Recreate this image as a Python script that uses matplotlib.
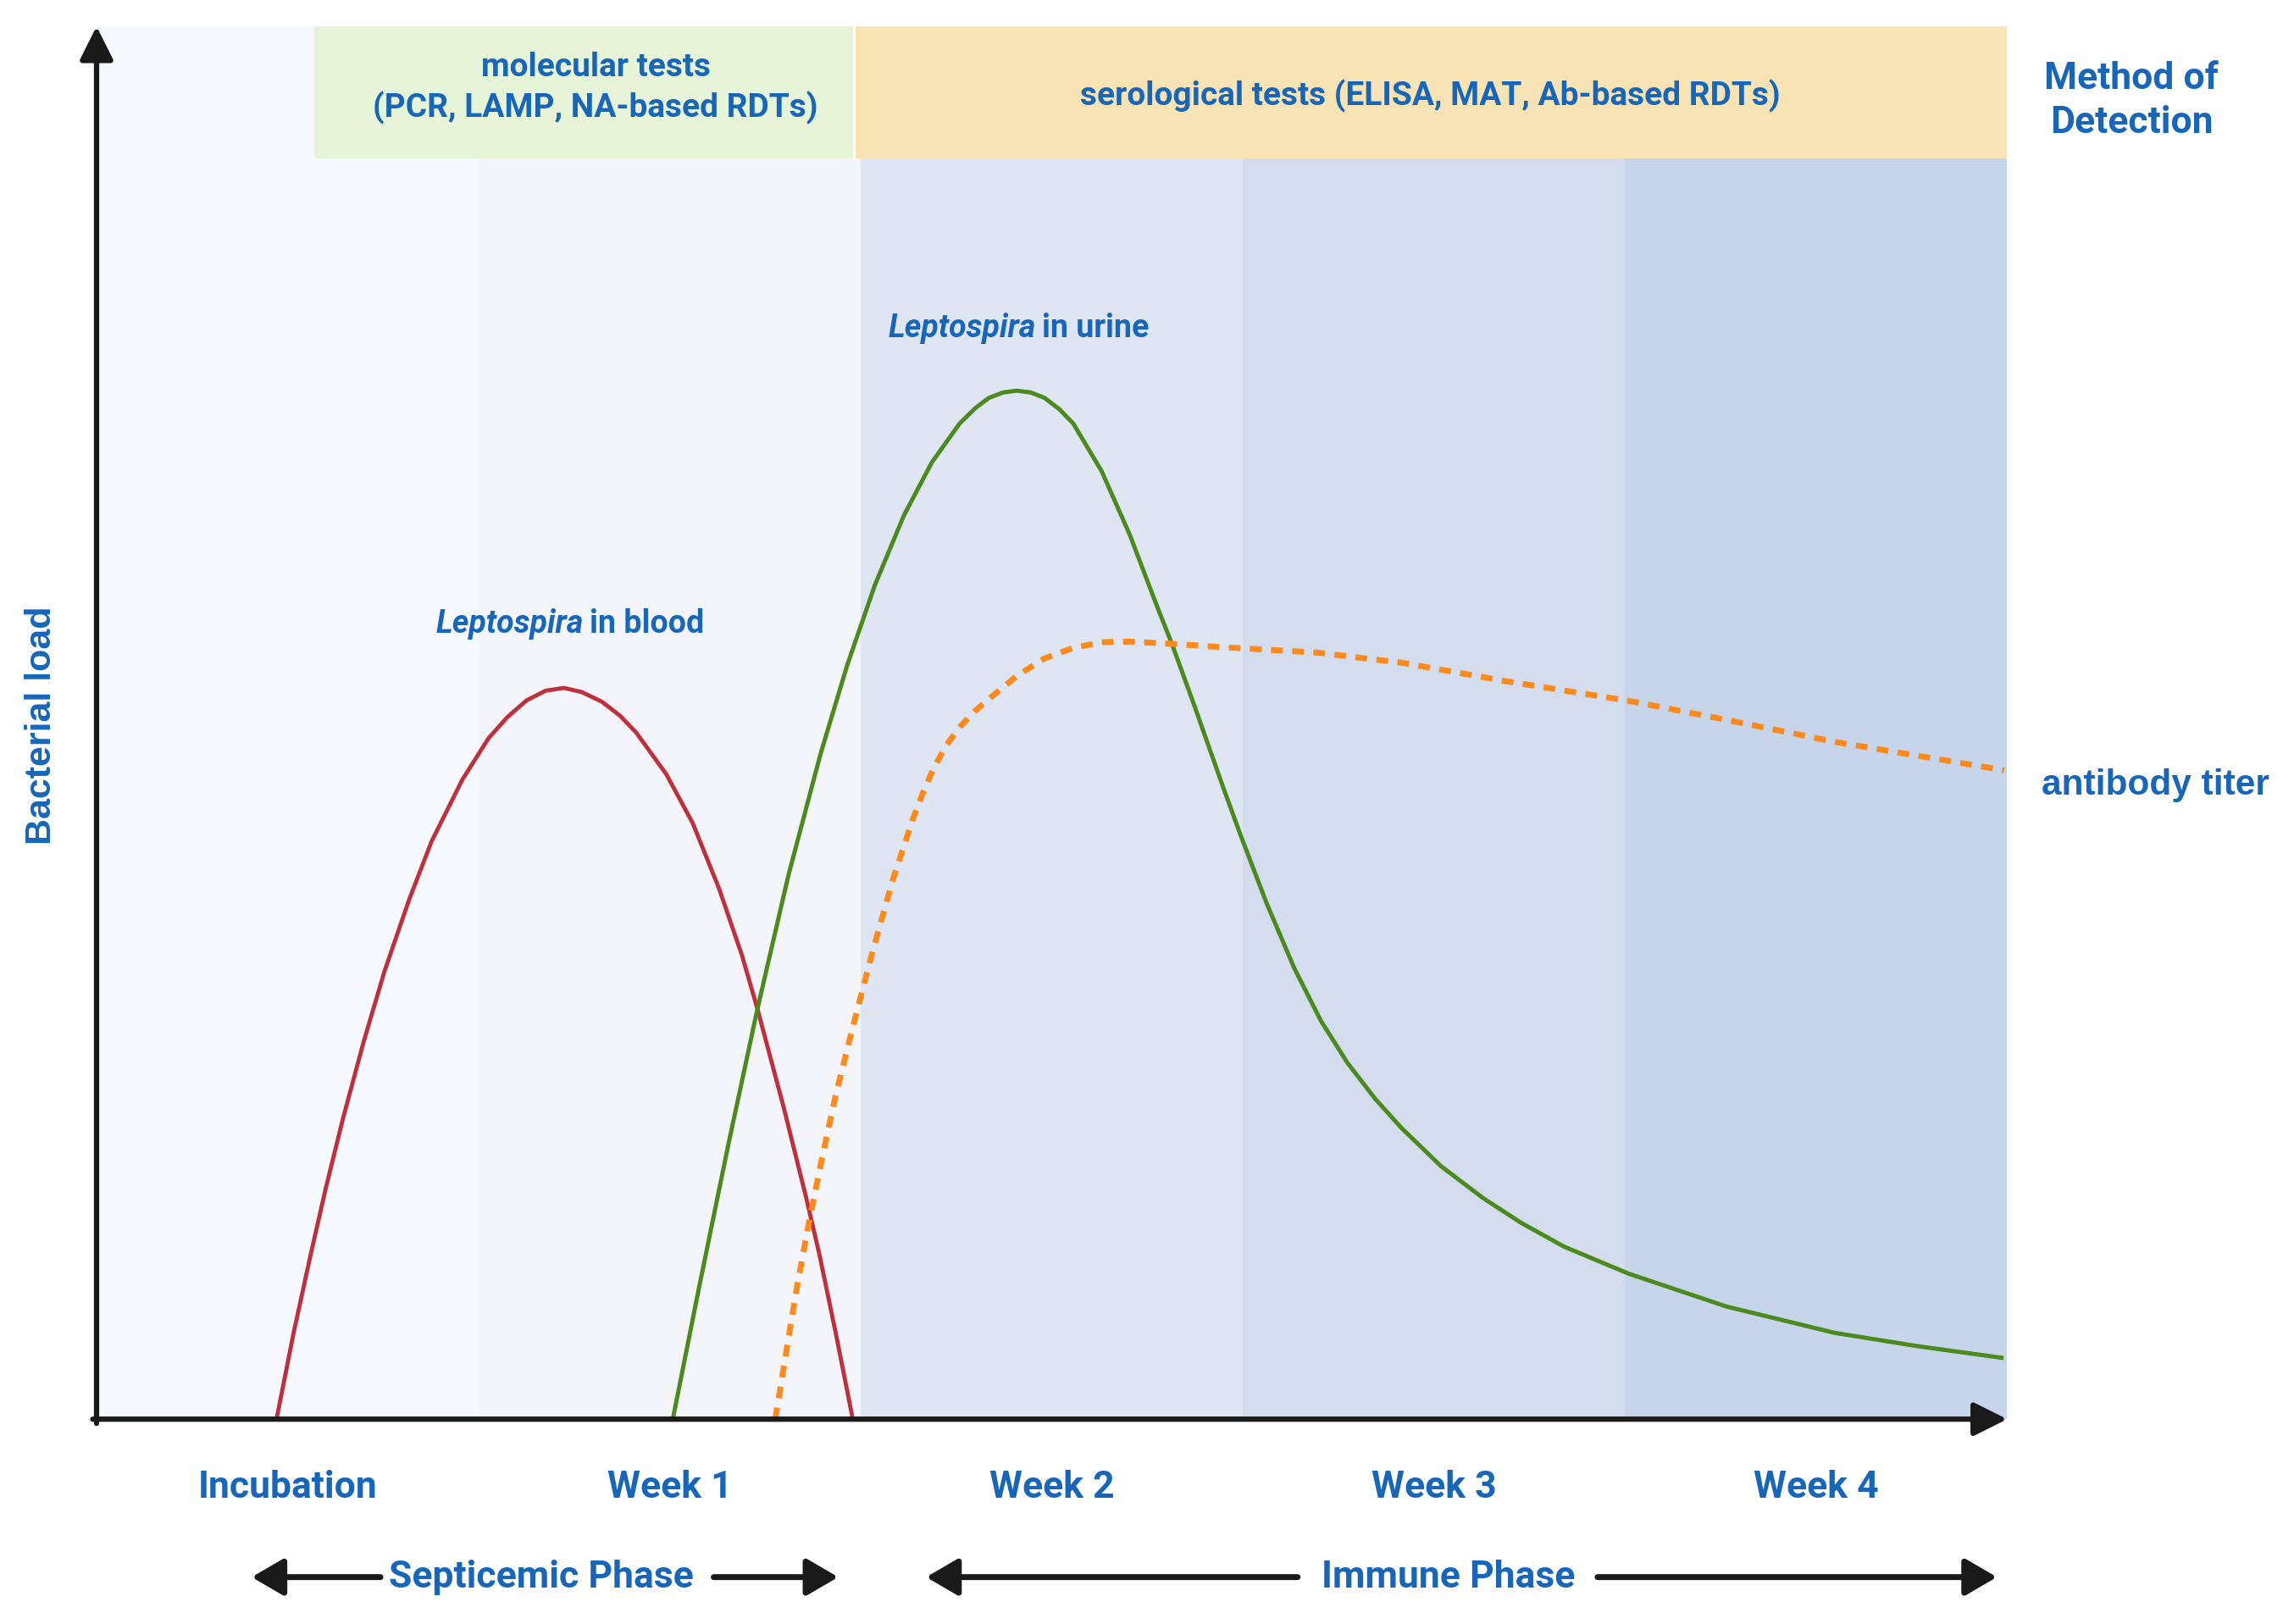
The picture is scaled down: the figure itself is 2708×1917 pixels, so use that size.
import matplotlib
matplotlib.use("Agg")
import matplotlib.pyplot as plt
from matplotlib.patches import Rectangle

# ---------------- data ----------------
periods = ["Incubation", "Week 1", "Week 2", "Week 3", "Week 4"]
period_centers = [0.5, 1.5, 2.5, 3.5, 4.5]
period_colors = ["#f6f9fd", "#f3f5fa", "#dfe6f3", "#d3ddee", "#c6d5ea"]

blood_x = [0.471, 0.515, 0.561, 0.600, 0.645, 0.699, 0.754, 0.818, 0.877, 0.957,
           1.026, 1.075, 1.125, 1.175, 1.223, 1.270, 1.323, 1.370, 1.412, 1.491,
           1.560, 1.629, 1.689, 1.729, 1.798, 1.857, 1.891, 1.935, 1.979]
blood_y = [0.0, 6.1, 11.9, 16.6, 21.6, 27.1, 32.2, 37.3, 41.5, 45.9,
           48.9, 50.4, 51.6, 52.3, 52.5, 52.2, 51.5, 50.5, 49.3, 46.3,
           42.8, 38.1, 33.3, 29.5, 22.4, 15.9, 11.9, 6.1, 0.0]

urine_x = [1.508, 1.577, 1.654, 1.729, 1.811, 1.895, 1.964, 2.037, 2.113, 2.186,
           2.259, 2.300, 2.335, 2.372, 2.408, 2.445, 2.481, 2.520, 2.556, 2.630,
           2.703, 2.776, 2.814, 2.871, 2.948, 2.994, 3.063, 3.134, 3.204, 3.273,
           3.346, 3.415, 3.518, 3.629, 3.729, 3.840, 4.010, 4.265, 4.548, 4.763,
           4.985]
urine_y = [0.0, 9.5, 19.8, 29.4, 39.1, 47.8, 54.1, 59.9, 64.9, 68.7,
           71.5, 72.6, 73.32, 73.71, 73.84, 73.71, 73.32, 72.5, 71.48, 68.07,
           63.55, 58.30, 55.67, 51.37, 45.38, 41.91, 36.97, 32.4, 28.6, 25.6,
           23.0, 20.9, 18.17, 15.86, 14.08, 12.39, 10.44, 8.09, 6.20, 5.25,
           4.41]

antibody_x = [1.776, 1.803, 1.830, 1.861, 1.895, 1.933, 1.979, 2.029, 2.083, 2.136,
              2.163, 2.190, 2.224, 2.259, 2.297, 2.335, 2.408, 2.481, 2.554, 2.630,
              2.703, 2.814, 2.925, 3.059, 3.193, 3.415, 3.698, 4.008, 4.265, 4.548,
              4.992]
antibody_y = [0.0, 4.52, 9.03, 13.66, 18.28, 23.11, 28.15, 33.40, 38.66, 43.07,
              45.0, 46.7, 48.4, 49.7, 50.8, 51.7, 53.36, 54.62, 55.36, 55.78,
              55.83, 55.67, 55.46, 55.25, 55.04, 54.31, 52.94, 51.58, 50.21, 48.63,
              46.59]

# ---------------- style ----------------
BLUE = "#1766ba"
DARK = "#1a1a1a"
ROBOTO = ["Roboto", "DejaVu Sans"]
ARIAL = ["Liberation Sans", "DejaVu Sans"]

fig = plt.figure(figsize=(27.08, 19.17), dpi=100, facecolor="white")
ax = fig.add_axes([0.04209, 0.12613, 0.8329, 0.85766])
ax.set_xlim(0, 5)
ax.set_ylim(0, 100)
for s in ax.spines.values():
    s.set_visible(False)
ax.set_facecolor("white")
ax.set_yticks([])

# period backgrounds
ax.add_patch(Rectangle((0, 0), 1, 100, color=period_colors[0], zorder=0, lw=0))
for i in range(1, 5):
    ax.add_patch(Rectangle((i, 0), 1, 90.5, color=period_colors[i], zorder=0, lw=0))

# method of detection boxes
ax.add_patch(Rectangle((0.570, 90.5), 1.409, 9.6, color="#e6f4d8", zorder=1, lw=0))
ax.add_patch(Rectangle((1.987, 90.5), 3.013, 9.6, color="#f7e3b4", zorder=1, lw=0))
ax.text(1.306, 95.55, "molecular tests\n(PCR, LAMP, NA-based RDTs)", ha="center", va="center",
        color=BLUE, fontsize=28, fontweight="bold", family=ROBOTO, linespacing=1.3, zorder=2)
ax.text(3.49, 94.98, "serological tests (ELISA, MAT, Ab-based RDTs)", ha="center", va="center",
        color=BLUE, fontsize=28, fontweight="bold", family=ROBOTO, zorder=2)
ax.text(5.325, 94.65, "Method of\nDetection", ha="center", va="center", color=BLUE,
        fontsize=32, fontweight="bold", family=ROBOTO, linespacing=1.3, clip_on=False)

# curves
ax.plot(blood_x, blood_y, color="#c0303c", lw=3.5, zorder=3, solid_joinstyle="round")
ax.plot(urine_x, urine_y, color="#4c8a1e", lw=3.6, zorder=3, solid_joinstyle="round")
ax.plot(antibody_x, antibody_y, color="#ff8a1c", lw=5, dashes=(2.0, 1.6), zorder=3)

# curve labels
ax.text(1.275, 57.1, "Leptospira", ha="right", va="center", color=BLUE, fontsize=27,
        fontweight="bold", fontstyle="italic", family=ROBOTO, zorder=4)
ax.text(1.29, 57.1, "in blood", ha="left", va="center", color=BLUE, fontsize=27,
        fontweight="bold", family=ROBOTO, zorder=4)
ax.text(2.458, 78.3, "Leptospira", ha="right", va="center", color=BLUE, fontsize=27,
        fontweight="bold", fontstyle="italic", family=ROBOTO, zorder=4)
ax.text(2.473, 78.3, "in urine", ha="left", va="center", color=BLUE, fontsize=27,
        fontweight="bold", family=ROBOTO, zorder=4)
ax.text(5.387, 45.5, "antibody titer", ha="center", va="center", color=BLUE, fontsize=30.5,
        fontweight="bold", family=ARIAL, clip_on=False)
ax.text(-0.145, 49.8, "Bacterial load", ha="center", va="center", rotation=90, color=BLUE,
        fontsize=31, fontweight="bold", family=ARIAL, clip_on=False)

# axes arrows
arrow_kw = dict(arrowstyle="-|>,head_length=0.6,head_width=0.3", lw=4.5, color=DARK,
                shrinkA=0, shrinkB=0, mutation_scale=40)
ax.annotate("", xy=(0, 100), xytext=(0, -0.3), xycoords="data", arrowprops=arrow_kw,
            annotation_clip=False, zorder=6)
ax.annotate("", xy=(5.0, 0), xytext=(-0.01, 0), xycoords="data", arrowprops=arrow_kw,
            annotation_clip=False, zorder=6)

# period tick labels
ax.set_xticks(period_centers)
ax.set_xticklabels(periods, fontsize=32, fontweight="bold", color=BLUE, family=ROBOTO)
ax.tick_params(axis="x", length=0, pad=43)

# phase arrows
phase_kw = dict(arrowstyle="-|>,head_length=0.6,head_width=0.35", lw=5, color=DARK,
                shrinkA=0, shrinkB=0, mutation_scale=38)
yp = -11.34
for (a, b) in [(0.743, 0.406), (1.615, 1.941), (3.143, 2.171), (3.928, 4.973)]:
    ax.annotate("", xy=(b, yp), xytext=(a, yp), xycoords="data", arrowprops=phase_kw,
                annotation_clip=False)
ax.text(1.164, yp, "Septicemic Phase", ha="center", va="center", color=BLUE, fontsize=32,
        fontweight="bold", family=ROBOTO, clip_on=False)
ax.text(3.538, yp, "Immune Phase", ha="center", va="center", color=BLUE, fontsize=32,
        fontweight="bold", family=ROBOTO, clip_on=False)

fig.savefig("out.png", dpi=100, facecolor="white")
